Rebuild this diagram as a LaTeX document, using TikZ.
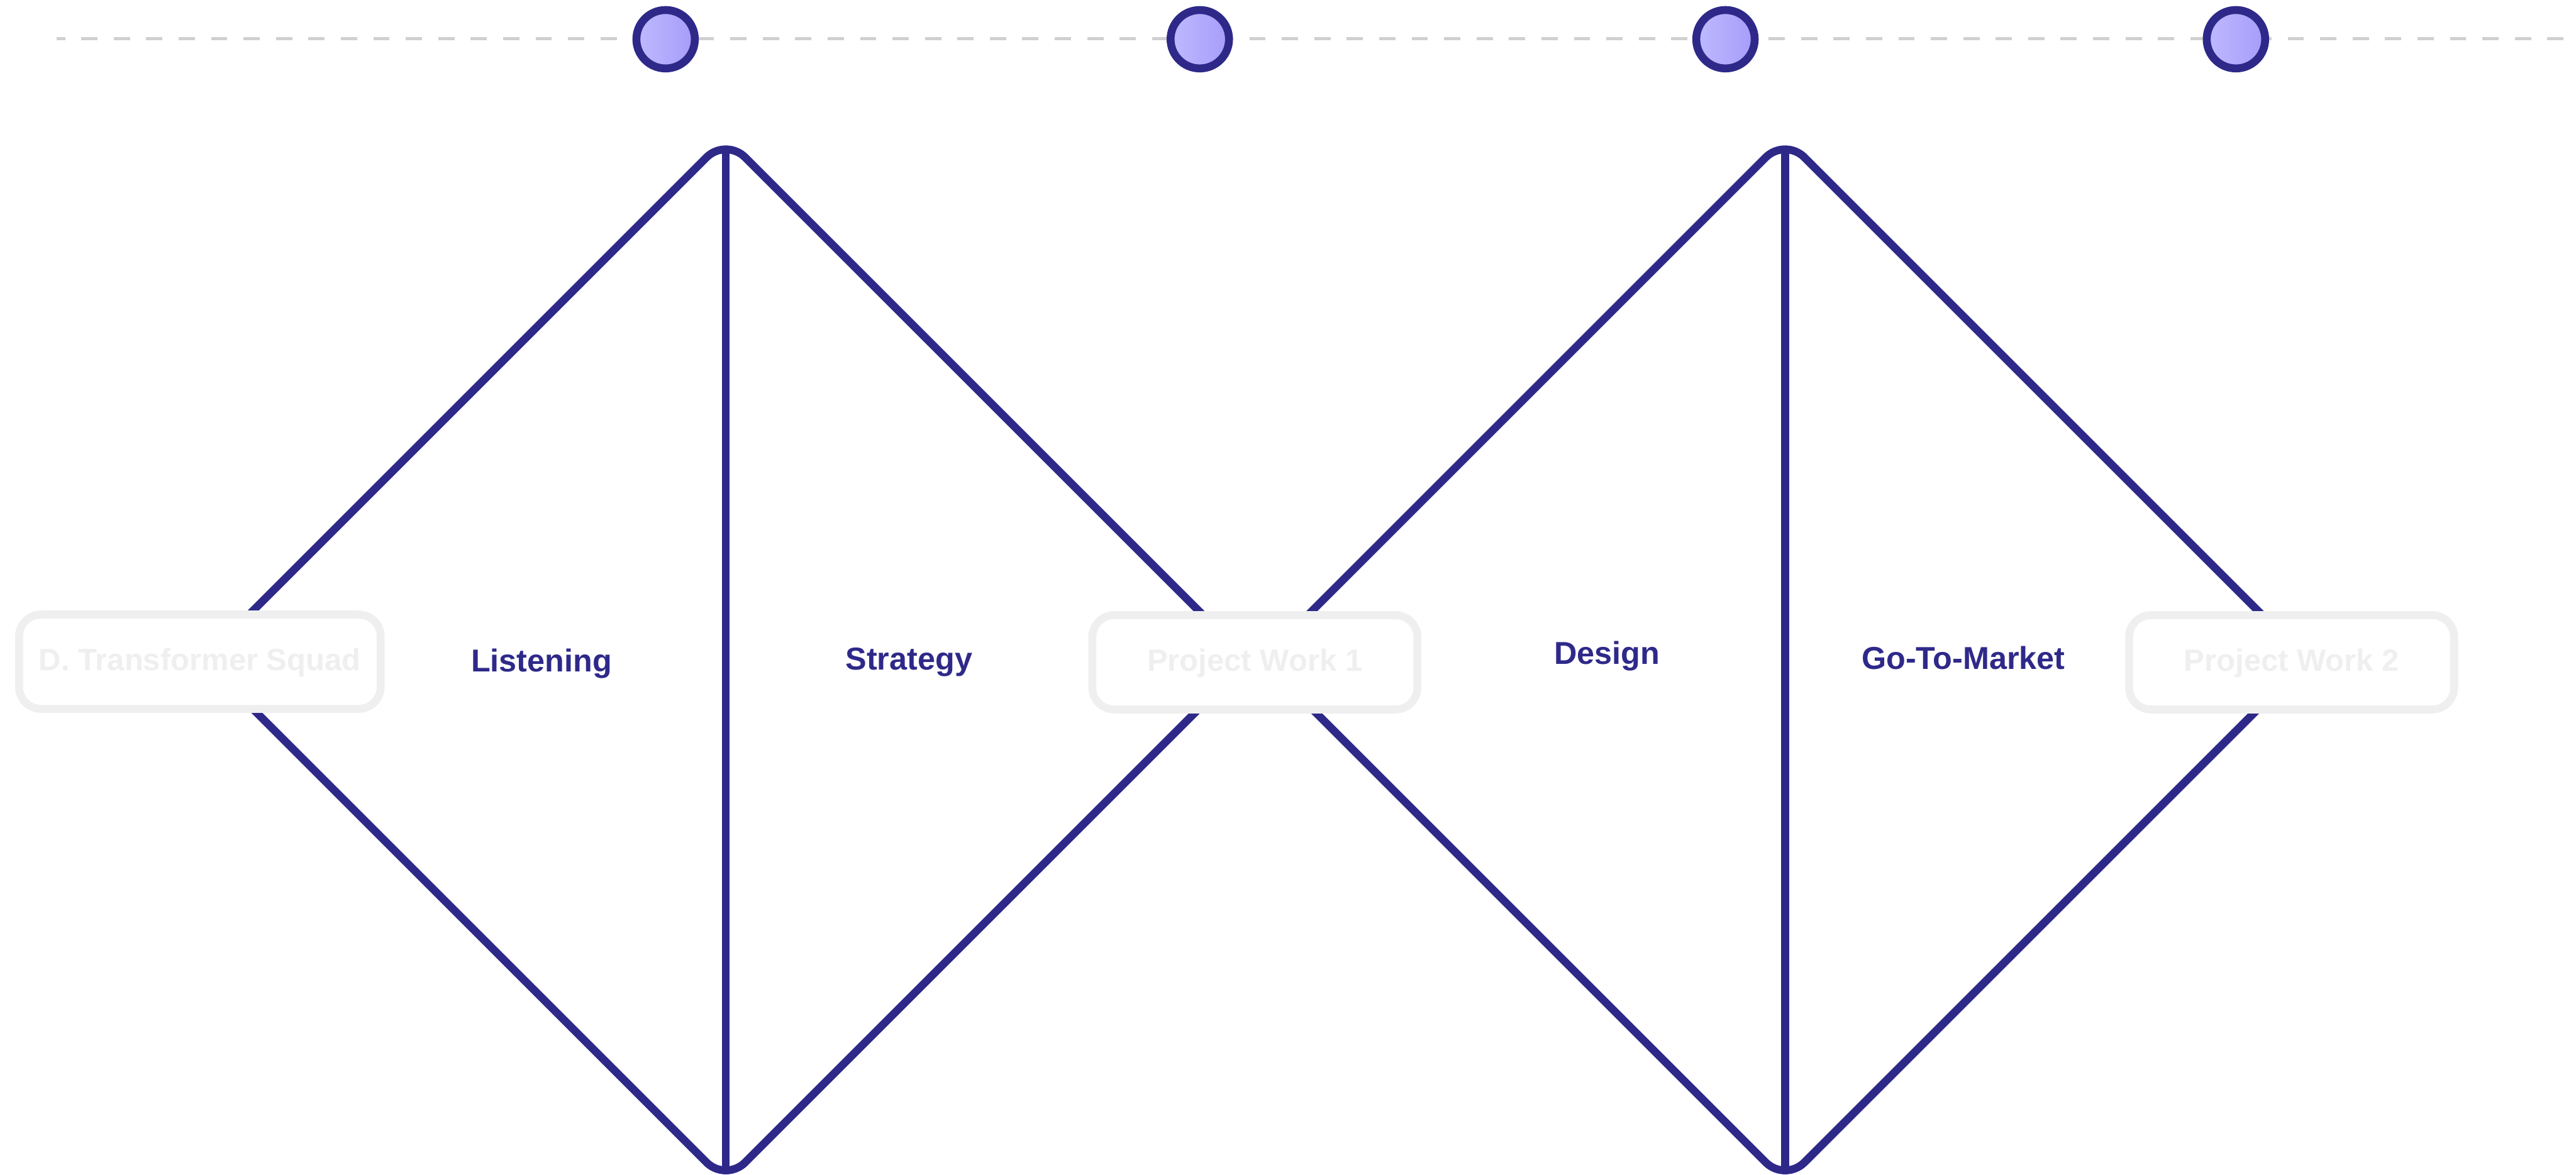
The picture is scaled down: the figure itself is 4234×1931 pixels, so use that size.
\documentclass[tikz,border=0pt]{standalone}
\usepackage{fontspec}
\setmainfont{Liberation Sans}
\usetikzlibrary{calc}
\definecolor{navy}{RGB}{46,41,137}
\definecolor{boxgray}{RGB}{239,239,239}
\definecolor{dashgray}{RGB}{208,208,208}
\definecolor{dotleft}{RGB}{190,186,255}
\definecolor{dotright}{RGB}{166,156,250}
\begin{document}
\begin{tikzpicture}[x=0.01cm,y=-0.01cm,
  dot/.style={circle, draw=navy, line width=0.13cm, minimum size=0.96cm, inner sep=0pt, left color=dotleft, right color=dotright},
  diamondline/.style={draw=navy, line width=0.13cm, rounded corners=0.45cm, line join=round},
  divider/.style={draw=navy, line width=0.13cm},
  pill/.style={draw=boxgray, fill=white, line width=0.13cm, rounded corners=0.36cm, minimum width=5.34cm, minimum height=1.55cm, inner sep=0pt, text=boxgray, font=\bfseries\fontsize{14.4pt}{18pt}\selectfont, text height=0.38cm, text depth=0.1cm},
  phase/.style={text=navy, font=\bfseries\fontsize{14.8pt}{18pt}\selectfont, anchor=base, inner sep=0pt},
  timeline/.style={draw=dashgray, line width=0.05cm, dash pattern=on 0.267cm off 0.266cm, dash phase=0.127cm}]
\useasboundingbox (0,0) rectangle (4234,1931);
\clip (0,0) rectangle (4234,1931);

% timeline
\coordinate (tlstart) at (93,64);
\coordinate (tlend) at (4234,64);
\draw[timeline] (tlstart) -- (tlend);
\node[dot] (dotA) at (1094,64.5) {};
\node[dot] (dotB) at (1972,64.5) {};
\node[dot] (dotC) at (2836,64.5) {};
\node[dot] (dotD) at (3675,64.5) {};

% first diamond
\coordinate (d1top) at (1193,227);
\coordinate (d1right) at (2051,1085);
\coordinate (d1bot) at (1193,1943);
\coordinate (d1left) at (335,1085);
\coordinate (d1start) at ($(d1top)!0.5!(d1right)$);
\draw[diamondline] (d1start) -- (d1right) -- (d1bot) -- (d1left) -- (d1top) -- cycle;
\coordinate (v1top) at (1193,246);
\coordinate (v1bot) at (1193,1924);
\draw[divider] (v1top) -- (v1bot);

% second diamond
\coordinate (d2top) at (2934,227);
\coordinate (d2right) at (3792,1085);
\coordinate (d2bot) at (2934,1943);
\coordinate (d2left) at (2076,1085);
\coordinate (d2start) at ($(d2top)!0.5!(d2right)$);
\draw[diamondline] (d2start) -- (d2right) -- (d2bot) -- (d2left) -- (d2top) -- cycle;
\coordinate (v2top) at (2934,246);
\coordinate (v2bot) at (2934,1924);
\draw[divider] (v2top) -- (v2bot);

% milestone boxes
\node[pill, minimum width=5.94cm] (squad) at (328.5,1088) {D. Transformer Squad};
\node[pill] (pw1) at (2062.5,1089) {Project Work 1};
\node[pill] (pw2) at (3766.5,1089) {Project Work 2};

% phase labels
\node[phase] (listening) at (890,1105) {Listening};
\node[phase] (strategy) at (1494,1101) {Strategy};
\node[phase] (design) at (2641,1092) {Design};
\node[phase] (gtm) at (3227,1100) {Go-To-Market};
\end{tikzpicture}
\end{document}
